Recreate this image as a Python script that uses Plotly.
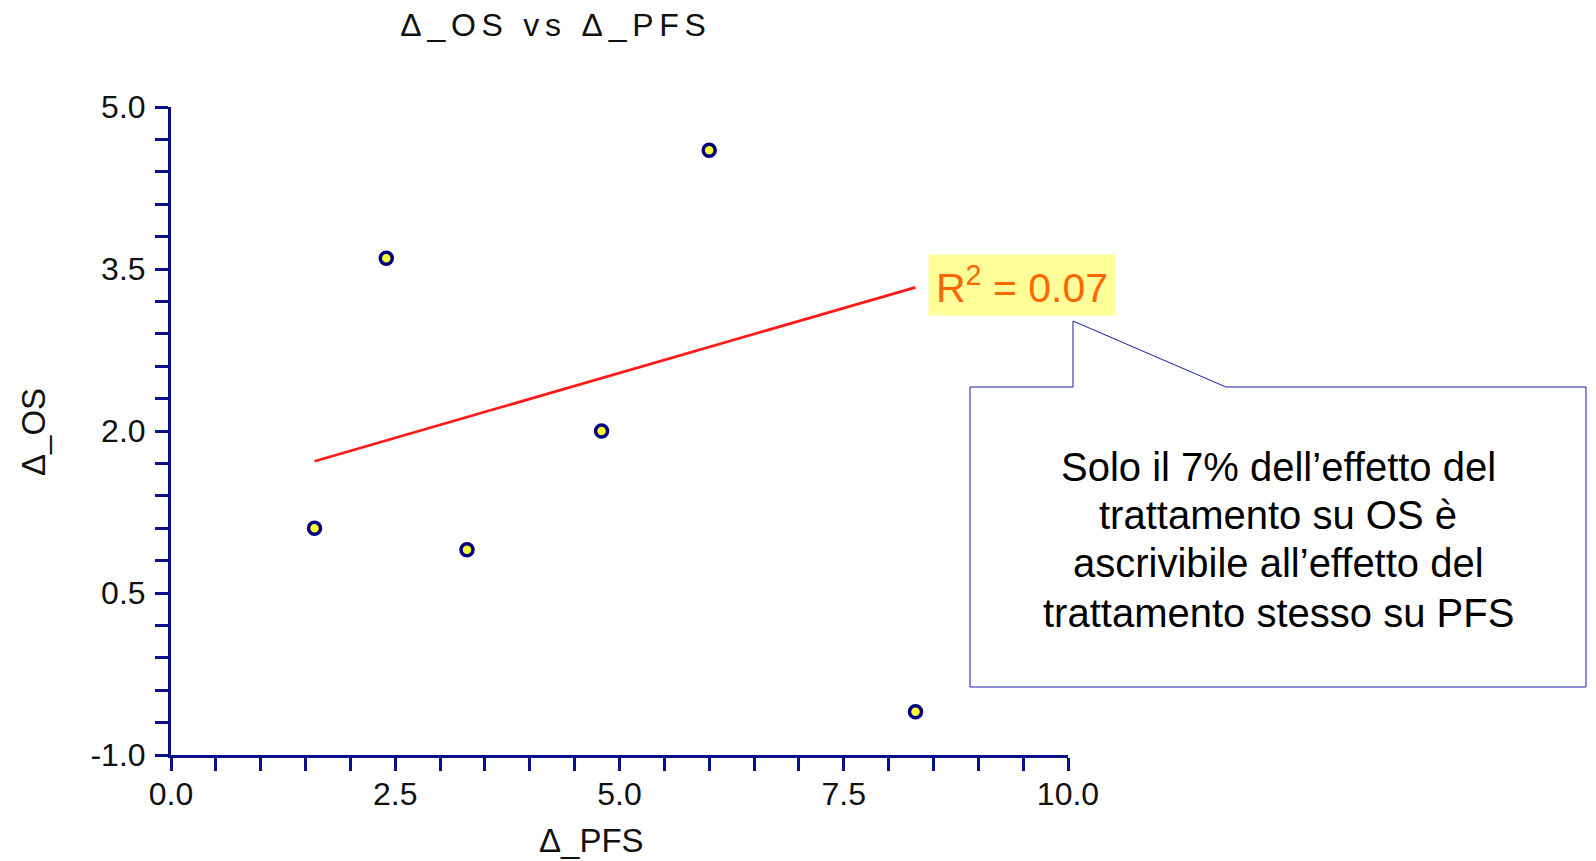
import plotly.graph_objects as go

# ---- data ----
delta_pfs = [1.6, 2.4, 3.3, 4.8, 6.0, 8.3]
delta_os = [1.1, 3.6, 0.9, 2.0, 4.6, -0.6]
trend_x = [1.6, 8.3]
trend_y = [1.72, 3.33]
r2_label = "R<sup>2</sup> = 0.07"
callout_lines = ["Solo il 7% dell’effetto del", "trattamento su OS è",
                 "ascrivibile all’effetto del", "trattamento stesso su PFS"]
x_ticks = [0.0, 2.5, 5.0, 7.5, 10.0]
y_ticks = [-1.0, 0.5, 2.0, 3.5, 5.0]

W, H = 1596, 861
L, R, T, B = 171, 1068, 107, 755
NAVY = "#0a0f8a"
FONT = "Liberation Sans, Arial, sans-serif"


def px(x):
    return (x - L) / (R - L)


def py(y):
    return (B - y) / (B - T)


fig = go.Figure()
fig.add_trace(go.Scatter(x=trend_x, y=trend_y, mode="lines",
                         line=dict(color="#ff1a1a", width=2.7),
                         hoverinfo="skip", showlegend=False))
fig.add_trace(go.Scatter(x=delta_pfs, y=delta_os, mode="markers",
                         marker=dict(size=12, color="#ffff33",
                                     line=dict(color="#000080", width=3.5)),
                         showlegend=False))

axis_common = dict(showgrid=False, zeroline=False, showline=True,
                   linecolor=NAVY, linewidth=3, ticks="outside",
                   ticklen=13, tickwidth=2.5, tickcolor=NAVY,
                   tickfont=dict(family=FONT, size=32, color="#111"))

fig.update_xaxes(range=[0, 10], tickvals=x_ticks,
                 ticktext=[f"{v:.1f}" for v in x_ticks],
                 ticklabelstandoff=-4,
                 minor=dict(dtick=0.5, tick0=0, ticks="outside", ticklen=13,
                            tickwidth=2.5, tickcolor=NAVY),
                 **axis_common)
fig.update_yaxes(range=[-1, 5], tickvals=y_ticks,
                 ticktext=[f"{v:.1f}" for v in y_ticks],
                 ticklabelstandoff=3,
                 minor=dict(dtick=0.3, tick0=-1, ticks="outside", ticklen=13,
                            tickwidth=2.5, tickcolor=NAVY),
                 **axis_common)

# callout bubble
pts = [(970, 387), (1073, 387), (1073, 321), (1226, 387), (1586, 387),
       (1586, 687), (970, 687)]
path = "M " + " L ".join(f"{px(a):.5f},{py(b):.5f}" for a, b in pts) + " Z"
fig.add_shape(type="path", path=path, xref="paper", yref="paper",
              line=dict(color="#1a1aa0", width=1), fillcolor="white")

annotations = [
    dict(text=r2_label, x=px(1022), y=py(284.5), xref="paper", yref="paper",
         xanchor="center", yanchor="middle",
         showarrow=False, bgcolor="#ffff99", width=186, height=60,
         borderpad=0, font=dict(family=FONT, size=41, color="#ff6600")),
    dict(text="Δ_PFS", x=px(591), y=py(840), xref="paper", yref="paper",
         xanchor="center", yanchor="middle",
         showarrow=False, font=dict(family=FONT, size=33, color="#111")),
    dict(text="Δ_OS", x=px(33), y=py(432), xref="paper", yref="paper",
         xanchor="center", yanchor="middle",
         showarrow=False, textangle=-90,
         font=dict(family=FONT, size=33, color="#111")),
]
line_ys = [467, 515, 563, 613]
for txt, ly in zip(callout_lines, line_ys):
    annotations.append(dict(text=txt, x=px(1278), y=py(ly), xref="paper",
                            yref="paper", xanchor="center", yanchor="middle",
                            showarrow=False,
                            font=dict(family=FONT, size=40, color="#000")))

fig.update_layout(
    width=W, height=H,
    margin=dict(l=L, r=W - R, t=T, b=H - B),
    paper_bgcolor="white", plot_bgcolor="white",
    title=dict(text="Δ_OS vs Δ_PFS", x=556 / W, xref="container",
               y=1 - 25 / H, yref="container", xanchor="center",
               yanchor="middle",
               font=dict(family=FONT, size=32, color="#111")),
    annotations=annotations,
)

fig.write_html(
    "out.html", config={"displayModeBar": False},
    post_script=("document.body.style.margin='0';"
                 "document.querySelectorAll('.gtitle').forEach(function(e){"
                 "e.style.letterSpacing='0.18em';});"))
